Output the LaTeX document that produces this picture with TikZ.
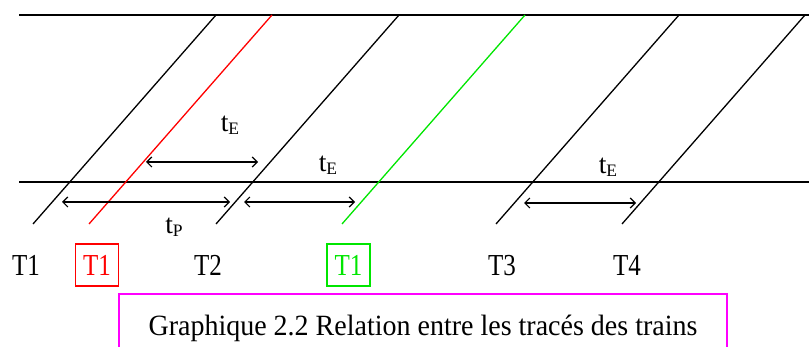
\documentclass[tikz,border=0pt]{standalone}
\usepackage{fontspec}
\setmainfont{Liberation Serif}
\usetikzlibrary{arrows.meta}
\definecolor{tred}{RGB}{255,0,0}
\definecolor{tgreen}{RGB}{0,230,0}
\definecolor{tmag}{RGB}{255,0,255}
\newcommand\tsubx[1]{t\raisebox{-2.6pt}{\fontsize{17.5}{17.5}\selectfont #1}}
\newcommand\tall[1]{\scalebox{1}[1.22]{#1}}
\tikzset{
  track/.style={line width=1.4pt},
  train/.style={line width=1.3pt},
  gap/.style={line width=1.2pt,{Straight Barb[length=5pt,width=10pt]}-{Straight Barb[length=5pt,width=10pt]}},
  lab/.style={font=\fontsize{25}{25}\selectfont,anchor=base,inner sep=0pt},
  sublab/.style={font=\fontsize{27.5}{27.5}\selectfont,anchor=base,inner sep=0pt},
  tbox/.style={draw,line width=1.4pt,minimum width=43pt,minimum height=42pt,inner sep=0pt,font=\fontsize{25}{25}\selectfont}
}
\begin{document}
\begin{tikzpicture}[x=1pt,y=-1pt]
\useasboundingbox (0,0) rectangle (809,347);
\clip (0,0) rectangle (809,347);
% tracks
\coordinate (tl) at (19,15);
\coordinate (tr) at (809,15);
\coordinate (bl) at (19,182);
\coordinate (br) at (809,182);
\draw[track] (tl) -- (tr);
\draw[track] (bl) -- (br);
% trains
\coordinate (a1) at (33,224);  \coordinate (b1) at (216,15);
\coordinate (a2) at (89,224);  \coordinate (b2) at (272,15);
\coordinate (a3) at (216,224); \coordinate (b3) at (399,15);
\coordinate (a4) at (342,224); \coordinate (b4) at (525,15);
\coordinate (a5) at (496,224); \coordinate (b5) at (679,15);
\coordinate (a6) at (622,224); \coordinate (b6) at (805,15);
\draw[train] (a1) -- (b1);
\draw[train,tred] (a2) -- (b2);
\draw[train] (a3) -- (b3);
\draw[train,tgreen] (a4) -- (b4);
\draw[train] (a5) -- (b5);
\draw[train] (a6) -- (b6);
% gaps
\coordinate (g1l) at (146,162); \coordinate (g1r) at (258,162);
\coordinate (g2l) at (62,202);  \coordinate (g2r) at (230,202);
\coordinate (g3l) at (244,202); \coordinate (g3r) at (355,202);
\coordinate (g4l) at (524,203); \coordinate (g4r) at (636,203);
\draw[gap] (g1l) -- (g1r);
\draw[gap] (g2l) -- (g2r);
\draw[gap] (g3l) -- (g3r);
\draw[gap] (g4l) -- (g4r);
\node[sublab] (te1) at (230,132) {\tsubx{E}};
\node[sublab] (tp) at (174,234) {\tsubx{P}};
\node[sublab] (te2) at (328,172) {\tsubx{E}};
\node[sublab] (te3) at (608,174) {\tsubx{E}};
% train labels
\node[lab] (n1) at (26,276) {\tall{T1}};
\node[tbox,tred] (n2) at (97,265) {\tall{T1}};
\node[lab] (n3) at (208,276) {\tall{T2}};
\node[tbox,tgreen] (n4) at (348.5,265) {\tall{T1}};
\node[lab] (n5) at (502,276) {\tall{T3}};
\node[lab] (n6) at (627,276) {\tall{T4}};
% caption
\draw[tmag,line width=1.4pt] (119,350) -- (119,294) -- (727,294) -- (727,350);
\node[anchor=base,inner sep=0pt,font=\fontsize{28}{28}\selectfont] (cap) at (423,336) {\scalebox{1}[1.05]{Graphique 2.2 Relation entre les tracés des trains}};
\end{tikzpicture}
\end{document}
